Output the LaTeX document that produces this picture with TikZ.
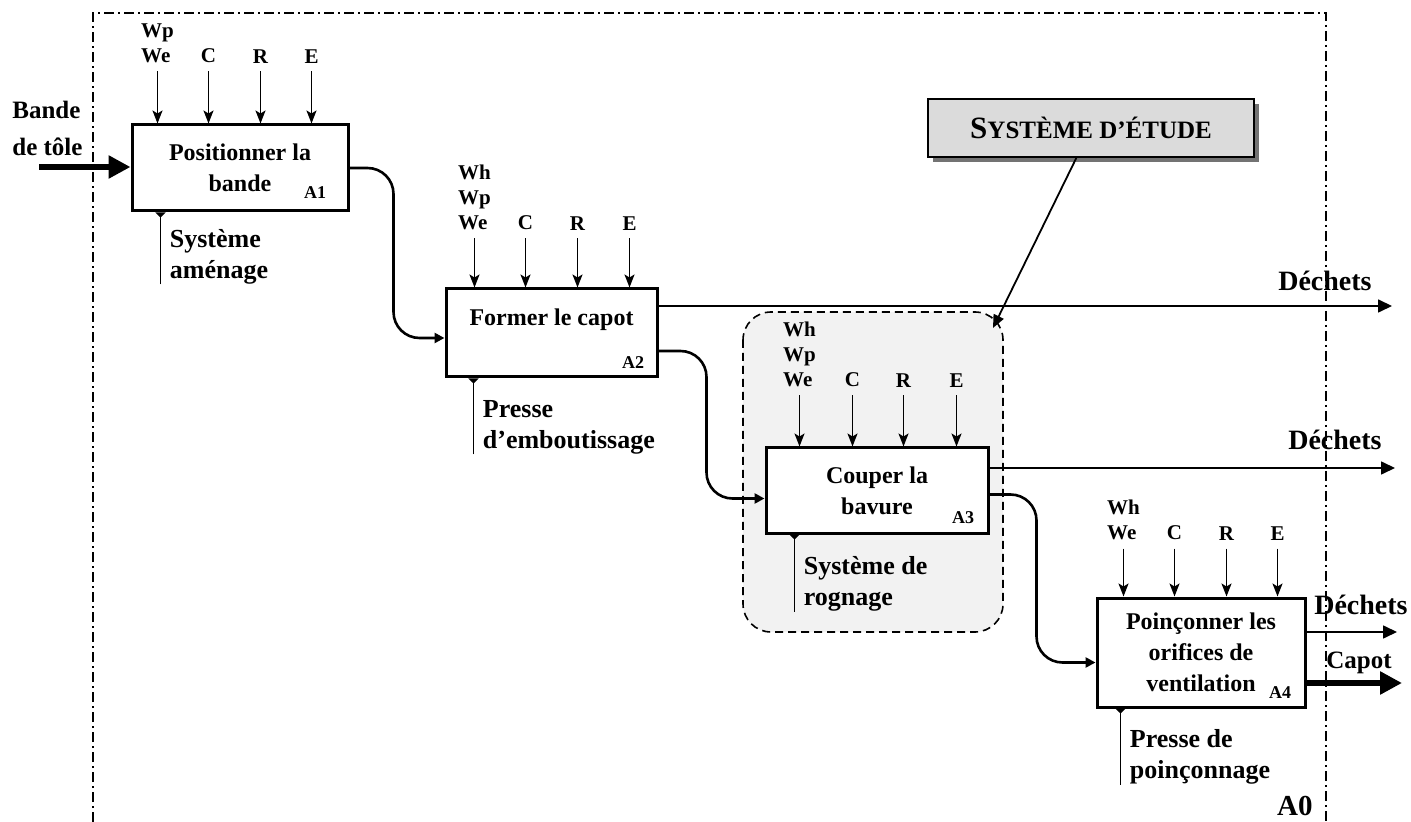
\documentclass[tikz,border=0pt]{standalone}
\usepackage{fontspec}
\setmainfont{Liberation Serif}
\usetikzlibrary{arrows.meta,positioning,shadows}

\begin{document}
\begin{tikzpicture}[x=0.5pt,y=-0.5pt,
  proc/.style={draw, line width=1.5pt, fill=white, inner sep=0pt, align=center,
    font=\bfseries\fontsize{12}{15.5}\selectfont},
  boxtxt/.style={inner sep=0pt, align=center, font=\bfseries\fontsize{12}{15.5}\selectfont},
  num/.style={inner sep=0pt, anchor=base east, font=\bfseries\fontsize{9}{10}\selectfont},
  ctl/.style={inner sep=4pt, anchor=south, align=left, font=\bfseries\fontsize{10.5}{12.5}\selectfont},
  ctrl/.style={line width=0.8pt, -{Stealth[length=6.5pt,width=5pt,inset=1.5pt]}},
  mech/.style={line width=0.9pt, -{Triangle[reversed,length=2.5pt,width=5pt]}},
  mlab/.style={inner sep=0pt, xshift=4.5pt, anchor=south west, align=left,
    font=\bfseries\fontsize{13}{15.5}\selectfont},
  flow/.style={line width=1.3pt, rounded corners=13pt, -{Triangle[length=5pt,width=5pt]}},
  waste/.style={line width=0.8pt, -{Triangle[length=7pt,width=6.5pt]}},
  thick flow/.style={line width=3pt, -{Triangle[length=11pt,width=11pt]}},
  outlab/.style={inner sep=0pt, anchor=base east, font=\bfseries\fontsize{14}{16}\selectfont},
  frame/.style={line width=1pt, dash pattern=on 5pt off 2pt on 1pt off 2pt},
  zone/.style={line width=0.8pt, dash pattern=on 4pt off 2.5pt, fill=black!5, rounded corners=14pt},
]
\useasboundingbox (0,0) rectangle (1411,822);

% cadre A0
\draw[frame] (93,822) -- (93,13) -- (1326,13) -- (1326,822);
\node[inner sep=0pt, anchor=base east, font=\bfseries\fontsize{14.5}{16}\selectfont] (a0) at (1313,815) {A0};

% systeme d'etude
\draw[zone] (743,312) rectangle (1003,632);
\node[draw, line width=1pt, fill=black!14, minimum width=163pt, minimum height=29pt,
  drop shadow={shadow xshift=2.5pt, shadow yshift=-2.5pt, fill=black!55, opacity=1},
  font=\bfseries] (etb) at (1091,128)
  {\fontsize{15.5}{18}\selectfont S{\fontsize{12.5}{14}\selectfont YSTÈME D’ÉTUDE}};
\coordinate (etude) at (993,328);
\draw[line width=0.9pt, -{Triangle[length=6.5pt,width=5.5pt]}] (etb) -- (etude);

% boites
\node[proc, minimum width=108pt, minimum height=43pt] (a1) at (240,168) {Positionner la\\bande};
\node[proc, minimum width=105.5pt, minimum height=44pt] (a2) at (551.5,333) {};
\node[boxtxt] (a2t) at ([yshift=6.5pt]a2.center) {Former le capot};
\node[proc, minimum width=111pt, minimum height=42.5pt] (a3) at (877,490.5) {Couper la\\bavure};
\node[proc, minimum width=104pt, minimum height=54.5pt] (a4) at (1201,652.5) {Poinçonner les\\orifices de\\ventilation};

\node[num] (a1n) at ([shift={(-11.5pt,7pt)}]a1.south east) {A1};
\node[num] (a2n) at ([shift={(-7pt,5pt)}]a2.south east) {A2};
\node[num] (a3n) at ([shift={(-7.5pt,5.5pt)}]a3.south east) {A3};
\node[num] (a4n) at ([shift={(-7.5pt,5pt)}]a4.south east) {A4};

% controles
\foreach \dx/\lab [count=\i] in {13.5/{Wp\\We}, 39/C, 65/R, 90.5/E} {
  \node[ctl] (a1k\i) at ([shift={(\dx pt,26pt)}]a1.north west) {\lab};
  \draw[ctrl] (a1k\i) -- (a1k\i |- a1.north);
}
\foreach \dx/\lab [count=\i] in {15/{Wh\\Wp\\We}, 40.5/C, 66.5/R, 92.5/E} {
  \node[ctl] (a2k\i) at ([shift={(\dx pt,24.5pt)}]a2.north west) {\lab};
  \draw[ctrl] (a2k\i) -- (a2k\i |- a2.north);
}
\foreach \dx/\lab [count=\i] in {17.5/{Wh\\Wp\\We}, 44/C, 69.5/R, 96/E} {
  \node[ctl] (a3k\i) at ([shift={(\dx pt,25.5pt)}]a3.north west) {\lab};
  \draw[ctrl] (a3k\i) -- (a3k\i |- a3.north);
}
\foreach \dx/\lab [count=\i] in {14/{Wh\\We}, 39.5/C, 65.5/R, 91/E} {
  \node[ctl] (a4k\i) at ([shift={(\dx pt,24pt)}]a4.north west) {\lab};
  \draw[ctrl] (a4k\i) -- (a4k\i |- a4.north);
}

% mecanismes
\coordinate (a1m) at ([shift={(15pt,-36pt)}]a1.south west);
\draw[mech] (a1m) -- (a1m |- a1.south);
\node[mlab] (a1ml) at (a1m) {Système\\aménage};
\coordinate (a2m) at ([shift={(14.5pt,-38pt)}]a2.south west);
\draw[mech] (a2m) -- (a2m |- a2.south);
\node[mlab] (a2ml) at (a2m) {Presse\\d’emboutissage};
\coordinate (a3m) at ([shift={(15pt,-38.5pt)}]a3.south west);
\draw[mech] (a3m) -- (a3m |- a3.south);
\node[mlab] (a3ml) at (a3m) {Système de\\rognage};
\coordinate (a4m) at ([shift={(12.5pt,-38pt)}]a4.south west);
\draw[mech] (a4m) -- (a4m |- a4.south);
\node[mlab] (a4ml) at (a4m) {Presse de\\poinçonnage};

% entree
\coordinate (bin) at (39,167);
\node[inner sep=0pt, anchor=north west, align=left, font=\bfseries\fontsize{12.5}{18.5}\selectfont] (bande) at (12,101) {Bande\\de tôle};
\draw[thick flow] (bin) -- (bin -| a1.west);

% enchainement
\draw[flow] (a1.east) -- ++(22pt,0) |- ([yshift=-2.5pt]a2.west);
\draw[flow] ([yshift=-9pt]a2.east) -- ++(24pt,0) |- ([yshift=-4pt]a3.west);
\draw[flow] ([yshift=-2pt]a3.east) -- ++(23.5pt,0) |- ([yshift=-5pt]a4.west);

% sorties
\coordinate (d2) at (1392,306);
\draw[waste] (a2.east |- d2) -- (d2);
\node[outlab] (d2l) at ([shift={(-10pt,7.5pt)}]d2) {Déchets};
\coordinate (d3) at (1395,468);
\draw[waste] (a3.east |- d3) -- (d3);
\node[outlab] (d3l) at ([shift={(-6.5pt,9pt)}]d3) {Déchets};
\coordinate (d4) at (1397,632);
\draw[waste] (a4.east |- d4) -- (d4);
\node[outlab] (d4l) at ([shift={(5.5pt,9pt)}]d4) {Déchets};
\coordinate (cap) at (1402,683);
\draw[thick flow] (a4.east |- cap) -- (cap);
\node[outlab, font=\bfseries\fontsize{12.5}{14}\selectfont] (capl) at ([shift={(-5pt,7.5pt)}]cap) {Capot};
\end{tikzpicture}
\end{document}
